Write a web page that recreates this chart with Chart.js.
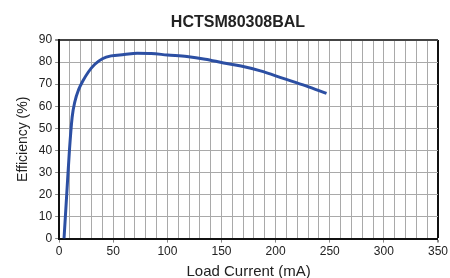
<!DOCTYPE html>
<html>
<head>
<meta charset="utf-8">
<script src="https://cdn.jsdelivr.net/npm/chart.js@4"></script>
<style>
html,body{margin:0;padding:0;background:#fff;overflow:hidden;}
#wrap{width:450px;height:281px;}
</style>
</head>
<body>
<div id="wrap"><canvas id="c" width="450" height="281"></canvas></div>
<script>
const chartTitle = "HCTSM80308BAL";
const xTitle = "Load Current (mA)";
const yTitle = "Efficiency (%)";
const loadCurrent = [4.5, 7, 9.5, 12, 14.5, 18, 22, 27, 33, 40, 48, 60, 72, 85, 100, 118, 135, 152, 168, 186, 207, 228, 247];
const efficiency  = [0, 20, 40, 55, 62, 67.5, 71.5, 75.5, 79, 81.5, 82.8, 83.4, 84, 83.9, 83.2, 82.5, 81.3, 79.6, 78.2, 76, 72.6, 69.2, 65.8];
const xMin = 0, xMax = 350, xStep = 10, xLabelEvery = 50;
const yMin = 0, yMax = 90, yStep = 10;

const points = loadCurrent.map((x, i) => ({x: x, y: efficiency[i]}));

const titlePlugin = {
  id: 'customTitle',
  afterDraw(chart) {
    const ctx = chart.ctx;
    ctx.save();
    ctx.font = 'bold 16px "Liberation Sans", Arial, sans-serif';
    ctx.fillStyle = '#222';
    ctx.textAlign = 'center';
    ctx.textBaseline = 'alphabetic';
    ctx.fillText(chartTitle, 238, 27);
    ctx.restore();
  }
};

const FONT = '"Liberation Sans Narrow", "Liberation Sans", Arial, sans-serif';

new Chart(document.getElementById('c'), {
  type: 'line',
  data: {
    datasets: [{
      data: points,
      borderColor: '#2c4fa3',
      borderWidth: 3,
      pointRadius: 0,
      fill: false,
      cubicInterpolationMode: 'monotone'
    }]
  },
  options: {
    responsive: false,
    animation: false,
    layout: {padding: {top: 40, right: 12, left: 15, bottom: 0}},
    plugins: {legend: {display: false}, tooltip: {enabled: false}, title: {display: false}},
    scales: {
      x: {
        type: 'linear',
        min: xMin, max: xMax,
        border: {display: true, color: '#111', width: 2},
        grid: {
          color: c => (c.tick && c.tick.value === xMax) ? '#111' : '#a9a9a9',
          lineWidth: c => (c.tick && c.tick.value === xMax) ? 2 : 1,
          tickLength: 4,
          tickColor: c => (c.tick && c.tick.value % xLabelEvery === 0) ? '#888' : 'rgba(0,0,0,0)'
        },
        ticks: {
          stepSize: xStep,
          autoSkip: false,
          maxRotation: 0,
          padding: 2,
          color: '#222',
          font: {family: FONT, size: 12},
          callback: v => (v % xLabelEvery === 0) ? String(v) : ''
        },
        title: {
          display: true, text: xTitle, color: '#222',
          font: {family: FONT, size: 15},
          padding: {top: 2, bottom: 0}
        }
      },
      y: {
        min: yMin, max: yMax,
        border: {display: true, color: '#111', width: 2},
        grid: {
          color: c => (c.tick && c.tick.value === yMax) ? '#444' : '#a9a9a9',
          lineWidth: c => (c.tick && c.tick.value === yMax) ? 2 : 1,
          tickLength: 4,
          tickColor: '#888'
        },
        ticks: {
          stepSize: yStep,
          padding: 3,
          color: '#222',
          font: {family: FONT, size: 12}
        },
        title: {
          display: true, text: yTitle, color: '#222',
          font: {family: FONT, size: 14},
          padding: {top: 0, bottom: 4}
        }
      }
    }
  },
  plugins: [titlePlugin]
});
</script>
</body>
</html>
